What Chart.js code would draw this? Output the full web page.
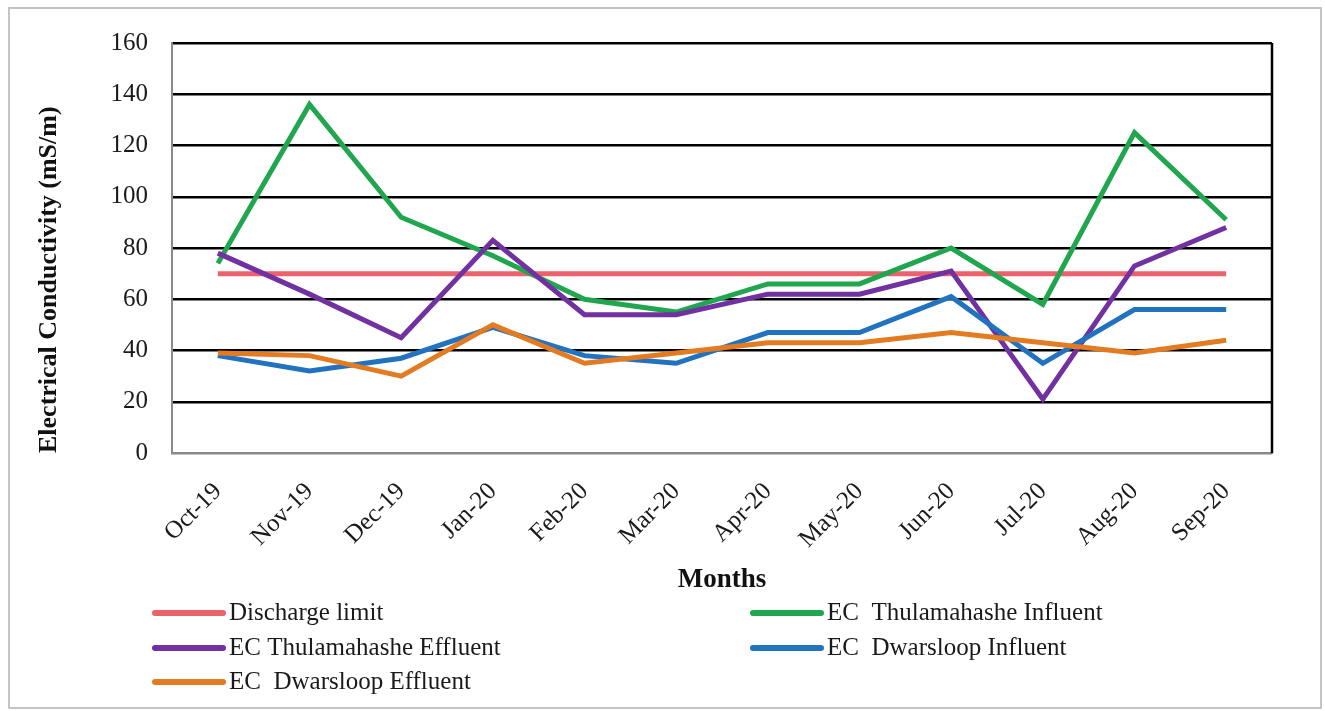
<!DOCTYPE html>
<html>
<head>
<meta charset="utf-8">
<script src="https://cdn.jsdelivr.net/npm/chart.js@4/dist/chart.umd.min.js"></script>
<style>
  html, body { margin: 0; padding: 0; background: #fff; }
  #wrap { position: relative; width: 1325px; height: 711px; }
</style>
</head>
<body>
<div id="wrap"><canvas id="ec-chart"></canvas></div>
<script>
// ── Data ────────────────────────────────────────────────
const months = ['Oct-19', 'Nov-19', 'Dec-19', 'Jan-20', 'Feb-20', 'Mar-20',
                'Apr-20', 'May-20', 'Jun-20', 'Jul-20', 'Aug-20', 'Sep-20'];
const yTicks = [0, 20, 40, 60, 80, 100, 120, 140, 160];

const dischargeLimit      = [70, 70, 70, 70, 70, 70, 70, 70, 70, 70, 70, 70];
const thulamahasheInfluent = [74, 136, 92, 77, 60, 55, 66, 66, 80, 58, 125, 91];
const thulamahasheEffluent = [78, 62, 45, 83, 54, 54, 62, 62, 71, 21, 73, 88];
const dwarsloopInfluent   = [38, 32, 37, 49, 38, 35, 47, 47, 61, 35, 56, 56];
const dwarsloopEffluent   = [39, 38, 30, 50, 35, 39, 43, 43, 47, 43, 39, 44];

const seriesNames = ['Discharge limit', 'EC  Thulamahashe Influent', 'EC Thulamahashe Effluent',
                     'EC  Dwarsloop Influent', 'EC  Dwarsloop Effluent'];
const seriesColors = ['#EC626C', '#20A64F', '#7131A1', '#2172BF', '#E37B22'];

const FONT = "'Liberation Serif', 'Times New Roman', serif";

// frame, right border and two-column legend
const decorPlugin = {
  id: 'decor',
  beforeDraw(chart) {
    const c = chart.ctx;
    c.save();
    c.fillStyle = '#fff';
    c.fillRect(0, 0, chart.width, chart.height);
    c.strokeStyle = '#c4c4c4';
    c.lineWidth = 2;
    c.strokeRect(9, 8, 1312, 700);
    c.restore();
  },
  beforeDatasetsDraw(chart) {
    const a = chart.chartArea, c = chart.ctx;
    c.save();
    c.strokeStyle = '#000';
    c.lineWidth = 2.5;
    c.beginPath();
    c.moveTo(a.right, a.top);
    c.lineTo(a.right, a.bottom);
    c.stroke();
    c.restore();
  },
  afterDraw(chart) {
    const c = chart.ctx;
    const cols = [155, 753];
    const rows = [613, 648, 682];
    c.save();
    c.font = '25px ' + FONT;
    c.textBaseline = 'middle';
    c.fillStyle = '#1a1a1a';
    chart.data.datasets.forEach((ds, i) => {
      const x = cols[i % 2], y = rows[Math.floor(i / 2)];
      c.strokeStyle = ds.borderColor;
      c.lineWidth = 6;
      c.lineCap = 'round';
      c.beginPath();
      c.moveTo(x, y);
      c.lineTo(x + 68, y);
      c.stroke();
      c.fillText(ds.label, x + 74, y);
    });
    c.restore();
  }
};

const seriesData = [dischargeLimit, thulamahasheInfluent, thulamahasheEffluent,
                    dwarsloopInfluent, dwarsloopEffluent];

new Chart(document.getElementById('ec-chart'), {
  type: 'line',
  data: {
    labels: months,
    datasets: seriesData.map((d, i) => ({
      label: seriesNames[i],
      data: d,
      borderColor: seriesColors[i],
      backgroundColor: seriesColors[i],
      borderWidth: 5,
      pointRadius: 0,
      tension: 0,
      order: seriesData.length - i
    }))
  },
  options: {
    responsive: true,
    maintainAspectRatio: false,
    animation: false,
    layout: { padding: { left: 0, right: 53, top: 43, bottom: 111 } },
    plugins: {
      legend: { display: false },
      tooltip: { enabled: false }
    },
    scales: {
      x: {
        offset: true,
        grid: { display: false },
        border: { color: '#8a8a8a', width: 2 },
        ticks: {
          autoSkip: false,
          minRotation: 45,
          maxRotation: 45,
          padding: 16,
          color: '#1a1a1a',
          font: { family: FONT, size: 25 }
        },
        title: {
          display: true,
          text: 'Months',
          color: '#111',
          padding: { top: 0, bottom: 4 },
          font: { family: FONT, size: 27, weight: 'bold' }
        },
        afterFit: (s) => { s.height = 147; }
      },
      y: {
        min: 0,
        max: 160,
        afterBuildTicks: (s) => { s.ticks = yTicks.map(v => ({ value: v })); },
        grid: {
          color: (ctx) => ctx.tick && ctx.tick.value === 0 ? '#8a8a8a' : '#000',
          lineWidth: 2.5,
          drawTicks: false
        },
        border: { color: '#8a8a8a', width: 2 },
        ticks: {
          padding: 24,
          color: '#1a1a1a',
          font: { family: FONT, size: 25 }
        },
        title: {
          display: true,
          text: 'Electrical Conductivity (mS/m)',
          align: 'start',
          color: '#111',
          padding: { top: 34 },
          font: { family: FONT, size: 26, weight: 'bold' }
        },
        afterFit: (s) => { s.width = 172; }
      }
    }
  },
  plugins: [decorPlugin]
});
</script>
</body>
</html>
